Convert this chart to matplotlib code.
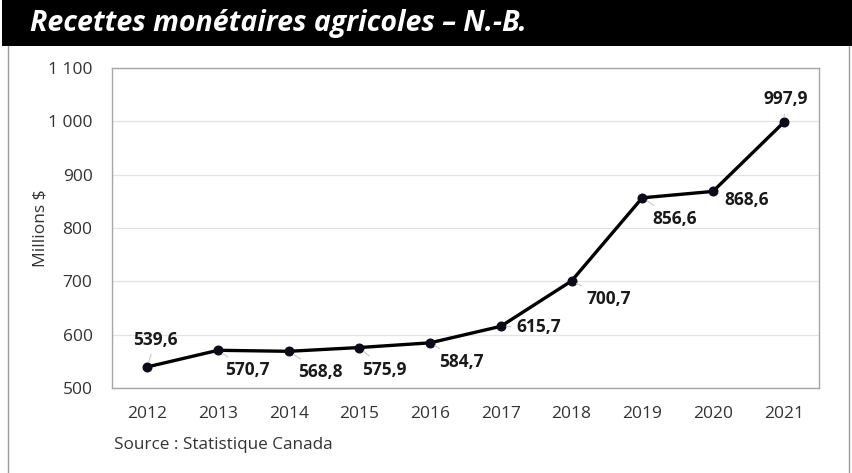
import matplotlib
matplotlib.use("Agg")
import matplotlib.pyplot as plt
from matplotlib.patches import Rectangle
from matplotlib.lines import Line2D
from matplotlib.ticker import FuncFormatter

plt.rcParams['font.family'] = ['Open Sans', 'DejaVu Sans']

years = ["2012", "2013", "2014", "2015", "2016", "2017", "2018", "2019", "2020", "2021"]
values = [539.6, 570.7, 568.8, 575.9, 584.7, 615.7, 700.7, 856.6, 868.6, 997.9]
label_offsets = [(8, 27), (29, -20), (32, -21), (25, -22), (31, -19), (38, -1), (37, -18), (32, -21), (34, -9), (2, 23)]
yticks = [500, 600, 700, 800, 900, 1000, 1100]

W, H = 852, 473
fig = plt.figure(figsize=(W / 100, H / 100), dpi=100)
fig.patch.set_facecolor('white')

# title bar
fig.patches.append(Rectangle((2 / W, 1 - 46 / H), 1 - 2 / W, 46 / H, transform=fig.transFigure,
                             facecolor='black', edgecolor='none', zorder=0))
fig.text(30 / W, 1 - 24 / H, "Recettes monétaires agricoles – N.-B.", color='white',
         fontsize=20.5, fontweight='bold', fontstyle='italic',
         family=['Open Sans', 'DejaVu Sans'], va='center', ha='left')
# frame borders
for xb in (7.5 / W, 848.5 / W):
    fig.lines.append(Line2D([xb, xb], [0, 1 - 46 / H], transform=fig.transFigure, color='#9a9a9a', lw=1.0))

ax = fig.add_axes([112 / W, 1 - 388 / H, 707 / W, 320 / H])
x = list(range(len(years)))
ax.plot(x, values, color='black', lw=2.4, marker='o', markersize=6.2,
        markerfacecolor='#0b0b1a', markeredgecolor='#0b0b1a', zorder=3)
ax.set_xlim(-0.5, len(years) - 0.5)
ax.set_ylim(500, 1100)
ax.set_yticks(yticks)
ax.yaxis.set_major_formatter(FuncFormatter(lambda v, p: f"{int(v):,}".replace(",", " ")))
ax.set_xticks(x)
ax.set_xticklabels(years)
ax.grid(axis='y', color='#e3e3e3', lw=0.9)
ax.set_axisbelow(True)
for s in ax.spines.values():
    s.set_color('#a6a6a6')
    s.set_linewidth(1.0)
ax.tick_params(length=0, labelsize=12.5, colors='#333333')
ax.tick_params(axis='y', pad=14)
ax.tick_params(axis='x', pad=13)
ax.set_ylabel("Millions $", fontsize=12.5, color='#333333')
ax.yaxis.set_label_coords((48 - 112) / 707, 0.5)

for xi, v, off in zip(x, values, label_offsets):
    ax.annotate(f"{v:.1f}".replace(".", ","), (xi, v), xytext=off, textcoords='offset pixels',
                ha='center', va='center', fontsize=12.5, fontweight='bold', color='#1a1a1a',
                arrowprops=dict(arrowstyle='-', color='#c8c8c8', lw=0.8, shrinkA=2, shrinkB=4))

fig.text(114 / W, 1 - 445 / H, "Source : Statistique Canada", fontsize=12.3, color='#333333',
         ha='left', va='center')

fig.savefig("out.png", dpi=100)
